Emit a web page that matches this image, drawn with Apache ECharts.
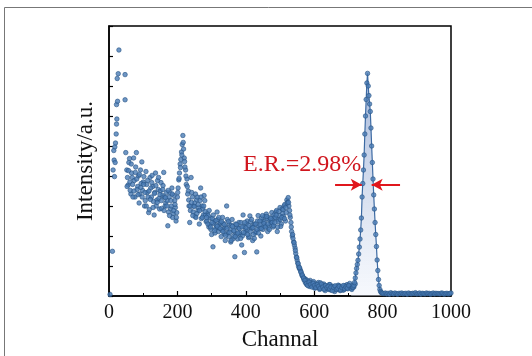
<!DOCTYPE html>
<html>
<head>
<meta charset="utf-8">
<script src="https://cdn.jsdelivr.net/npm/echarts@6/dist/echarts.min.js"></script>
<style>
  html, body { margin: 0; padding: 0; background: #fff; }
  #chart { width: 532px; height: 356px; }
</style>
</head>
<body>
<div id="chart"></div>
<script>
// rising edge near channel 0
var headCh = [3, 10, 12, 14, 15, 16, 17, 18, 19, 21, 22, 22, 23, 24, 25, 27, 29, 47, 47, 49];
var headCnt = [5, 149, 420, 485, 453, 398, 497, 445, 510, 540, 573, 638, 590, 725, 649, 741, 820, 738, 654, 478];

// continuum, every 4 channels from 52 to 704
var bulkStart = 52;
var bulkCnt = [
  420, 370, 458, 340, 395, 460, 330, 478, 365, 310, 420, 447,
  380, 300, 415, 345, 278, 395, 330, 365, 270, 410, 320, 355, 290, 378, 335, 412, 300, 345,
  234, 330, 290, 360, 275, 318, 250, 330,
  387, 440, 480, 535, 460, 420, 390, 350, 245, 395,
  330, 300, 265, 320, 285, 240, 360, 300, 270, 318, 248,
  275, 230, 260, 205, 164, 250, 225, 280, 215, 240, 198, 262,
  225, 185, 300, 210, 240, 180, 255, 200, 131, 230, 190, 245, 205, 170, 270,
  145, 220, 250, 195, 267, 230, 185, 240, 210, 147, 268, 225,
  200, 250, 232, 265, 273, 215, 255, 240, 278, 230, 262,
  280, 215, 255, 295, 240, 275, 300, 250, 320, 328, 285,
  245, 200, 180, 160, 130, 110, 93, 85, 70, 62, 58,
  55, 48, 40, 52, 35, 44, 28, 38, 30, 45, 22, 35, 27, 40, 18, 30, 25, 38, 20, 32,
  24, 15, 30, 22, 35, 18, 28, 20, 33, 25, 38, 30, 42, 28, 36, 30, 40
];

// second pass of the continuum, every 4 channels from 54 to 702
var bulkStartB = 54;
var bulkCntB = [
  395, 445, 352, 410, 330, 385, 430, 355, 400, 340, 375,
  352, 398, 318, 372, 330, 288, 360, 402, 315, 345, 300, 385, 325, 350, 292, 368, 330, 310,
  318, 280, 345, 300, 262, 335, 295, 278,
  360, 410, 455, 505, 490, 430, 372, 340, 300, 285,
  345, 280, 310, 262, 330, 295, 318, 258, 290, 335, 270,
  250, 268, 238, 222, 258, 242, 210, 235, 255, 228, 245, 220,
  242, 208, 230, 255, 198, 222, 235, 190, 215, 240, 205, 228, 212, 245, 200,
  232, 210, 240, 220, 198, 248, 225, 205, 238, 215, 250, 232,
  238, 260, 222, 248, 235, 258, 228, 262, 245, 252, 270,
  262, 285, 248, 268, 232, 290, 265, 305, 278, 312, 300,
  262, 215, 192, 170, 142, 120, 100, 90, 78, 66, 54,
  45, 38, 50, 32, 42, 36, 48, 26, 40, 33, 28, 44, 30, 36, 25, 34, 28, 22, 38, 26,
  32, 20, 30, 24, 36, 22, 30, 26, 20, 34, 28, 24, 32
];

// third pass of the continuum, every 4 channels from 53 to 701
var bulkStartC = 53;
var bulkCntC = [
  365, 418, 380, 440, 372, 350, 412, 390, 338, 405, 362,
  330, 372, 345, 300, 385, 350, 322, 378, 295, 342, 368, 312, 395, 338, 318, 355, 285, 328,
  300, 352, 268, 318, 340, 285, 305, 262,
  345, 392, 428, 470, 512, 448, 400, 365, 320, 300,
  312, 268, 298, 340, 275, 305, 285, 330, 262, 300, 282,
  262, 240, 285, 230, 245, 270, 218, 252, 232, 262, 225, 248,
  215, 238, 202, 225, 248, 212, 185, 232, 218, 198, 238, 210, 225, 192, 230,
  212, 245, 228, 205, 235, 215, 255, 228, 192, 240, 222, 210,
  250, 225, 268, 242, 230, 265, 240, 222, 258, 245, 235,
  245, 270, 230, 282, 255, 262, 288, 258, 295, 310, 312,
  270, 230, 205, 178, 152, 128, 108, 95, 80, 70, 60,
  52, 42, 35, 46, 38, 30, 42, 35, 28, 38, 32, 25, 40, 30, 22, 35, 28, 32, 24, 30,
  18, 28, 34, 22, 26, 32, 20, 28, 35, 24, 30, 26, 35
];

// photo peak, every 2 channels from 708 to 800
var peakStart = 708;
var peakCnt = [
  25, 22, 28, 30, 35, 45, 60, 77, 92, 105, 119, 140, 163, 190, 220, 260,
  330, 375, 420, 470, 540, 600, 655, 710, 742, 700, 668, 640, 615, 560,
  500, 445, 390, 337, 290, 245, 205, 165, 120, 85, 55, 35, 22, 15, 12, 10, 9
];

// tail, every 4 channels from 804 to 1000
var tailStart = 804;
var tailCnt = [
  8, 10, 7, 9, 6, 11, 8, 7, 10, 8, 6, 9, 8, 10, 7, 8, 9, 6, 10, 8, 7, 9, 8, 11, 7,
  8, 10, 6, 9, 8, 7, 10, 8, 9, 6, 8, 10, 7, 9, 8, 8, 7, 10, 9, 6, 8, 9, 7, 8, 10
];

// resolution marker: half maximum and the two edges
var halfMax = 371;
var fwhmEdges = [739, 768];
var arrowTails = [661, 851];
var erLabel = 'E.R.=2.98%';

var xTicks = [0, 200, 400, 600, 800, 1000];

function pairs(start, step, arr) {
  return arr.map(function (v, i) { return [start + i * step, v]; });
}

var headData = headCh.map(function (c, i) { return [c, headCnt[i]]; });
var peakData = pairs(peakStart, 2, peakCnt);
var tailData = pairs(tailStart, 4, tailCnt);
var allData = headData.concat(
  pairs(bulkStart, 4, bulkCnt),
  pairs(bulkStartB, 4, bulkCntB),
  pairs(bulkStartC, 4, bulkCntC),
  peakData, tailData
);
var peakLine = peakData.concat(tailData);

var serif = "'Liberation Serif', 'Times New Roman', serif";

var chartDom = document.getElementById('chart');
var myChart = echarts.init(chartDom);

var option = {
  animation: false,
  grid: {
    left: 109, right: 81, top: 26, bottom: 54,
    containLabel: false,
    show: true, borderColor: '#000', borderWidth: 1.5
  },
  xAxis: {
    type: 'value',
    min: 0, max: 1000, interval: 200,
    name: 'Channal',
    nameLocation: 'middle',
    nameGap: 32,
    nameTextStyle: { fontFamily: serif, fontSize: 23, color: '#111' },
    axisLine: { lineStyle: { color: '#000', width: 1.5 } },
    axisTick: { inside: true, length: 5, lineStyle: { color: '#000', width: 1.2 } },
    minorTick: { show: true, splitNumber: 2, length: 3, lineStyle: { color: '#000' } },
    axisLabel: {
      fontFamily: serif, fontSize: 20, color: '#111', margin: 7,
      formatter: function (v) { return xTicks.indexOf(v) >= 0 ? String(v) : ''; }
    },
    splitLine: { show: false }
  },
  yAxis: {
    type: 'value',
    min: 0, max: 900, interval: 100,
    name: 'Intensity/a.u.',
    nameLocation: 'middle',
    nameGap: 12,
    nameTextStyle: { fontFamily: serif, fontSize: 23, color: '#111' },
    axisLine: { show: true, lineStyle: { color: '#000', width: 1.5 } },
    axisTick: { show: true, inside: true, length: 4, lineStyle: { color: '#000', width: 1.2 } },
    axisLabel: { show: false },
    splitLine: { show: false }
  },
  series: [
    {
      type: 'line',
      data: peakLine,
      symbol: 'none',
      lineStyle: { color: '#3c6aa3', width: 1.2 },
      areaStyle: {
        color: new echarts.graphic.LinearGradient(0, 0, 0, 1, [
          { offset: 0, color: 'rgba(110,140,195,0.9)' },
          { offset: 1, color: 'rgba(235,240,250,0.6)' }
        ])
      },
      markLine: {
        silent: true,
        symbol: ['none', 'arrow'],
        symbolSize: [9, 11],
        label: { show: false },
        lineStyle: { color: '#e0161c', width: 2, type: 'solid' },
        data: [
          [{ coord: [arrowTails[0], halfMax] }, { coord: [fwhmEdges[0], halfMax] }],
          [{ coord: [arrowTails[1], halfMax] }, { coord: [fwhmEdges[1], halfMax] }]
        ]
      },
      z: 1
    },
    {
      type: 'scatter',
      data: allData,
      symbol: 'circle',
      symbolSize: 4.5,
      itemStyle: { color: '#4a7cb5', borderColor: '#2b5688', borderWidth: 0.8 },
      z: 3
    }
  ],
  graphic: [
    {
      type: 'rect',
      shape: { x: 4.5, y: 7.5, width: 600, height: 400 },
      style: { fill: 'none', stroke: '#777', lineWidth: 1 },
      silent: true
    },
    {
      type: 'text',
      left: 243, top: 153,
      style: { text: erLabel, font: '24px ' + serif, fill: '#d0161e' },
      z: 10
    }
  ]
};

myChart.setOption(option);
window.addEventListener('resize', function () {
  myChart.resize();
});
</script>
</body>
</html>
